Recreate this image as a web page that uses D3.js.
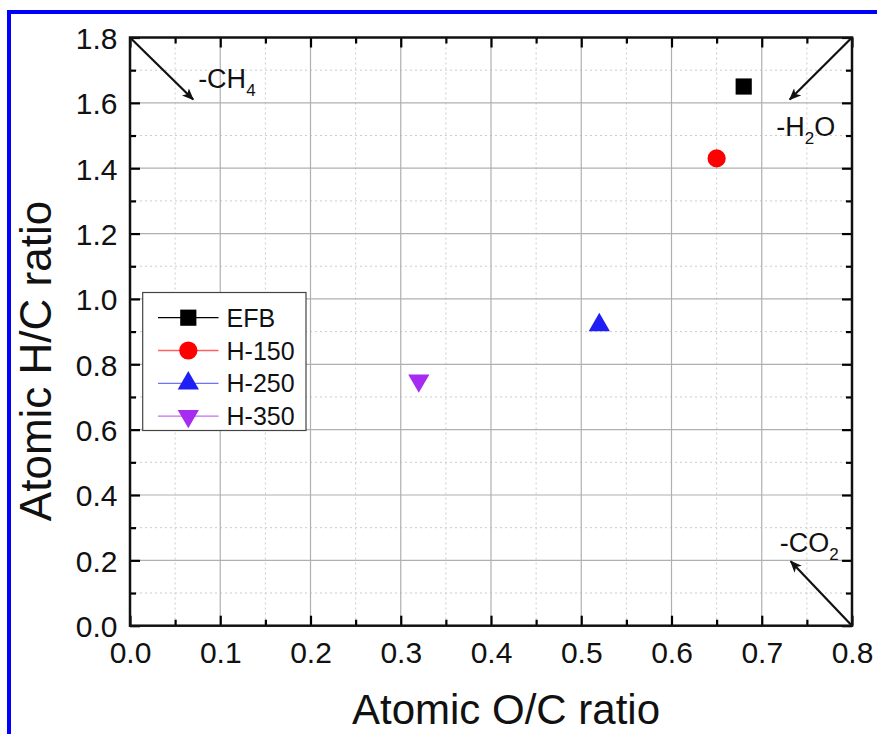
<!DOCTYPE html>
<html><head><meta charset="utf-8">
<script src="https://cdn.jsdelivr.net/npm/d3@7"></script>
<style>
html,body{margin:0;padding:0;background:#fff;}
svg{display:block;font-family:"Liberation Sans",Arial,Helvetica,sans-serif;}
</style></head>
<body>
<svg id="chart" width="877" height="734"></svg>
<script>
// ---- data ----
const seriesNames = ["EFB", "H-150", "H-250", "H-350"];
const ocValues = [0.68, 0.65, 0.52, 0.32];
const hcValues = [1.65, 1.43, 0.92, 0.75];
const seriesColors = ["#000000", "#ff0000", "#1f1ff5", "#a52cf0"];
const legendLineColors = ["#000000", "#ff6060", "#7070ff", "#c070f0"];
const seriesSymbols = ["square", "circle", "triangle", "triangleDown"];
const xTicks = [0, 0.1, 0.2, 0.3, 0.4, 0.5, 0.6, 0.7, 0.8];
const yTicks = [0, 0.2, 0.4, 0.6, 0.8, 1.0, 1.2, 1.4, 1.6, 1.8];
const xMinor = [0.05, 0.15, 0.25, 0.35, 0.45, 0.55, 0.65, 0.75];
const yMinor = [0.1, 0.3, 0.5, 0.7, 0.9, 1.1, 1.3, 1.5, 1.7];
// arrows: start / end in data units, and labels
const arrowStart = [[0, 1.8], [0.8, 1.8], [0.8, 0]];
const arrowEnd = [[0.07, 1.61], [0.731, 1.61], [0.732, 0.197]];
const arrowLabelMain = [["-CH", "4", ""], ["-H", "2", "O"], ["-CO", "2", ""]];
const arrowLabelPos = [[0.0755, 1.645], [0.716, 1.498], [0.72, 0.227]];

// ---- layout ----
const svg = d3.select("#chart");
const L = 130, R = 852, T = 37.5, B = 625.7;
const x = d3.scaleLinear().domain([0, 0.8]).range([L, R]);
const y = d3.scaleLinear().domain([0, 1.8]).range([B, T]);

// blue frame (top & left)
svg.append("rect").attr("x", 7).attr("y", 10).attr("width", 877).attr("height", 4).attr("fill", "#0000ff");
svg.append("rect").attr("x", 7).attr("y", 10).attr("width", 4).attr("height", 734).attr("fill", "#0000ff");

// grid
const g = svg.append("g");
g.selectAll(".xminor").data(xMinor).join("line")
  .attr("x1", d => x(d)).attr("x2", d => x(d)).attr("y1", T).attr("y2", B)
  .attr("stroke", "#cccccc").attr("stroke-width", 1).attr("stroke-dasharray", "2,3");
g.selectAll(".yminor").data(yMinor).join("line")
  .attr("y1", d => y(d)).attr("y2", d => y(d)).attr("x1", L).attr("x2", R)
  .attr("stroke", "#cccccc").attr("stroke-width", 1).attr("stroke-dasharray", "2,3");
g.selectAll(".xmajor").data(xTicks.slice(1, -1)).join("line")
  .attr("x1", d => x(d)).attr("x2", d => x(d)).attr("y1", T).attr("y2", B)
  .attr("stroke", "#b0b0b0").attr("stroke-width", 1.2);
g.selectAll(".ymajor").data(yTicks.slice(1, -1)).join("line")
  .attr("y1", d => y(d)).attr("y2", d => y(d)).attr("x1", L).attr("x2", R)
  .attr("stroke", "#b0b0b0").attr("stroke-width", 1.2);

// axes with inner ticks
function styleAxis(sel) {
  sel.select(".domain").remove();
  sel.selectAll("line").attr("stroke", "#000").attr("stroke-width", 2.2);
}
const fmt = d3.format(".1f");
const axB = svg.append("g").attr("transform", `translate(0,${B})`)
  .call(d3.axisBottom(x).tickValues(xTicks).tickFormat(fmt).tickSizeInner(-10).tickSizeOuter(0).tickPadding(24));
const axBm = svg.append("g").attr("transform", `translate(0,${B})`)
  .call(d3.axisBottom(x).tickValues(xMinor).tickFormat("").tickSizeInner(-6).tickSizeOuter(0));
const axT = svg.append("g").attr("transform", `translate(0,${T})`)
  .call(d3.axisTop(x).tickValues(xTicks).tickFormat("").tickSizeInner(-10).tickSizeOuter(0));
const axTm = svg.append("g").attr("transform", `translate(0,${T})`)
  .call(d3.axisTop(x).tickValues(xMinor).tickFormat("").tickSizeInner(-6).tickSizeOuter(0));
const axL = svg.append("g").attr("transform", `translate(${L},0)`)
  .call(d3.axisLeft(y).tickValues(yTicks).tickFormat(fmt).tickSizeInner(-10).tickSizeOuter(0).tickPadding(24));
const axLm = svg.append("g").attr("transform", `translate(${L},0)`)
  .call(d3.axisLeft(y).tickValues(yMinor).tickFormat("").tickSizeInner(-6).tickSizeOuter(0));
const axR = svg.append("g").attr("transform", `translate(${R},0)`)
  .call(d3.axisRight(y).tickValues(yTicks).tickFormat("").tickSizeInner(-10).tickSizeOuter(0));
const axRm = svg.append("g").attr("transform", `translate(${R},0)`)
  .call(d3.axisRight(y).tickValues(yMinor).tickFormat("").tickSizeInner(-6).tickSizeOuter(0));
[axB, axBm, axT, axTm, axL, axLm, axR, axRm].forEach(styleAxis);
axB.selectAll("text").attr("font-size", 30).attr("fill", "#111").attr("font-family", null).attr("dy", null)
  .attr("y", 37);
axL.selectAll("text").attr("font-size", 30).attr("fill", "#111").attr("font-family", null)
  .attr("x", -12.5).attr("dy", "0.36em");

// frame
svg.append("rect").attr("x", L).attr("y", T).attr("width", R - L).attr("height", B - T)
  .attr("fill", "none").attr("stroke", "#111").attr("stroke-width", 2.5);

// axis titles
svg.append("text").attr("x", 506).attr("y", 724).attr("text-anchor", "middle")
  .attr("font-size", 42).attr("fill", "#111").text("Atomic O/C ratio");
svg.append("text").attr("transform", "translate(51,361) rotate(-90)").attr("text-anchor", "middle")
  .attr("font-size", 44).attr("fill", "#111").text("Atomic H/C ratio");

// arrows
const defs = svg.append("defs");
defs.append("marker").attr("id", "ah").attr("viewBox", "0 0 12 10").attr("refX", 11).attr("refY", 5)
  .attr("markerWidth", 12).attr("markerHeight", 10).attr("markerUnits", "userSpaceOnUse").attr("orient", "auto")
  .append("path").attr("d", "M0,0 L12,5 L0,10 L3,5 Z").attr("fill", "#111");
svg.selectAll(".arrow").data(arrowStart).join("line")
  .attr("x1", d => x(d[0])).attr("y1", d => y(d[1]))
  .attr("x2", (d, i) => x(arrowEnd[i][0])).attr("y2", (d, i) => y(arrowEnd[i][1]))
  .attr("stroke", "#111").attr("stroke-width", 2.2).attr("marker-end", "url(#ah)");
arrowLabelMain.forEach((parts, i) => {
  const t = svg.append("text").attr("x", x(arrowLabelPos[i][0])).attr("y", y(arrowLabelPos[i][1]))
    .attr("font-size", 27).attr("fill", "#111");
  t.append("tspan").text(parts[0]);
  t.append("tspan").attr("font-size", 17).attr("dy", 8).text(parts[1]);
  if (parts[2]) t.append("tspan").attr("dy", -8).text(parts[2]);
});

// symbols
function symPath(kind) {
  if (kind === "square") return d3.symbol(d3.symbolSquare, 262)();
  if (kind === "circle") return d3.symbol(d3.symbolCircle, 260)();
  return d3.symbol(d3.symbolTriangle, 195)();
}
svg.selectAll(".pt").data(ocValues).join("path")
  .attr("d", (d, i) => symPath(seriesSymbols[i]))
  .attr("transform", (d, i) => `translate(${x(d)},${y(hcValues[i])})` + (seriesSymbols[i] === "triangleDown" ? " rotate(180)" : ""))
  .attr("fill", (d, i) => seriesColors[i]);

// legend
const lg = svg.append("g");
lg.append("rect").attr("x", 142.7).attr("y", 292.5).attr("width", 163.3).attr("height", 138)
  .attr("fill", "#fff").attr("stroke", "#444").attr("stroke-width", 1.2);
const rows = lg.selectAll(".row").data(seriesNames).join("g")
  .attr("transform", (d, i) => `translate(0,${317.7 + i * 32.8})`);
rows.append("line").attr("x1", 158).attr("x2", 218.5).attr("y1", 0).attr("y2", 0)
  .attr("stroke", (d, i) => legendLineColors[i]).attr("stroke-width", 1.3);
rows.append("path").attr("d", (d, i) => symPath(seriesSymbols[i]))
  .attr("transform", (d, i) => "translate(188.3,0)" + (seriesSymbols[i] === "triangleDown" ? " rotate(180)" : ""))
  .attr("fill", (d, i) => seriesColors[i]);
rows.append("text").attr("x", 226.5).attr("y", 9).attr("font-size", 25).attr("fill", "#111").text(d => d);
</script>
</body></html>
